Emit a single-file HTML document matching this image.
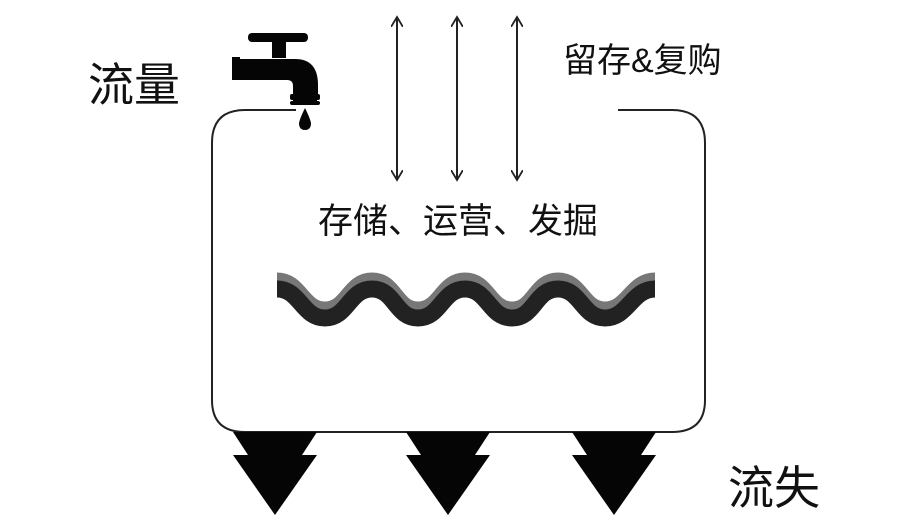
<!DOCTYPE html>
<html><head><meta charset="utf-8"><style>
body{margin:0;background:#fff}
.t{position:absolute;font-family:"Liberation Sans","Noto Sans CJK SC",sans-serif;color:#111;white-space:nowrap;line-height:1}
</style></head><body>
<div style="position:relative;width:922px;height:523px;overflow:hidden;background:#fff">
<svg width="922" height="523" style="position:absolute;left:0;top:0">
<defs><marker id="a" markerWidth="12" markerHeight="12" refX="10" refY="6" orient="auto-start-reverse" markerUnits="userSpaceOnUse"><path d="M0,0 L10,6 L0,12" fill="none" stroke="#222" stroke-width="1.8"/></marker></defs>
<path d="M296,110 L245,110 Q212,110 212,143 L212,400 Q212,432 245,432 L672,432 Q705,432 705,400 L705,143 Q705,110 672,110 L618,110" fill="none" stroke="#222" stroke-width="2"/>
<g stroke="#222" stroke-width="2" marker-start="url(#a)" marker-end="url(#a)">
<line x1="397" y1="17" x2="397" y2="180"/><line x1="457" y1="17" x2="457" y2="180"/><line x1="517" y1="17" x2="517" y2="180"/></g>
<g fill="none" stroke-linecap="butt">
<path d="M277,289 C300,289 302,318 325,318 C348,318 349,289 372,289 C395,289 395,318 418,318 C441,318 442,289 465,289 C488,289 489,318 512,318 C535,318 535,289 558,289 C581,289 582,318 605,318 C628,318 632,289 655,289" stroke="#777" stroke-width="17" transform="translate(0,-8)"/>
<path d="M277,289 C300,289 302,318 325,318 C348,318 349,289 372,289 C395,289 395,318 418,318 C441,318 442,289 465,289 C488,289 489,318 512,318 C535,318 535,289 558,289 C581,289 582,318 605,318 C628,318 632,289 655,289" stroke="#222" stroke-width="17"/>
</g>
<g fill="#050505">
<polygon points="233,432 317,432 302,455 317,455 275,515 233,455 248,455"/>
<polygon points="406,432 490,432 475,455 490,455 448,515 406,455 421,455"/>
<polygon points="572,432 656,432 641,455 656,455 614,515 572,455 587,455"/>
<rect x="248" y="33" width="60" height="9" rx="4"/>
<rect x="272" y="40" width="14" height="18"/>
<rect x="232" y="57" width="8" height="23"/>
<path d="M238,59 L295,59 Q318,59 318,85 L318,96 L293,96 L293,86 Q293,80 287,80 L238,80 Z"/>
<rect x="290" y="94" width="30" height="6" rx="2"/>
<rect x="293" y="98" width="24" height="4"/>
<rect x="290" y="101" width="30" height="4" rx="2"/>
<path d="M305,108 Q300,118 299,123 Q299,130 305,130 Q311,130 311,123 Q310,118 305,108Z"/>
</g>
</svg>
<div class="t" style="left:88px;top:62px;font-size:46px">流量</div>
<div class="t" style="left:563px;top:44px;font-size:34px">留存&amp;复购</div>
<div class="t" style="left:318px;top:204px;font-size:35px">存储、运营、发掘</div>
<div class="t" style="left:728px;top:465px;font-size:46px">流失</div>
</div>
</body></html>
